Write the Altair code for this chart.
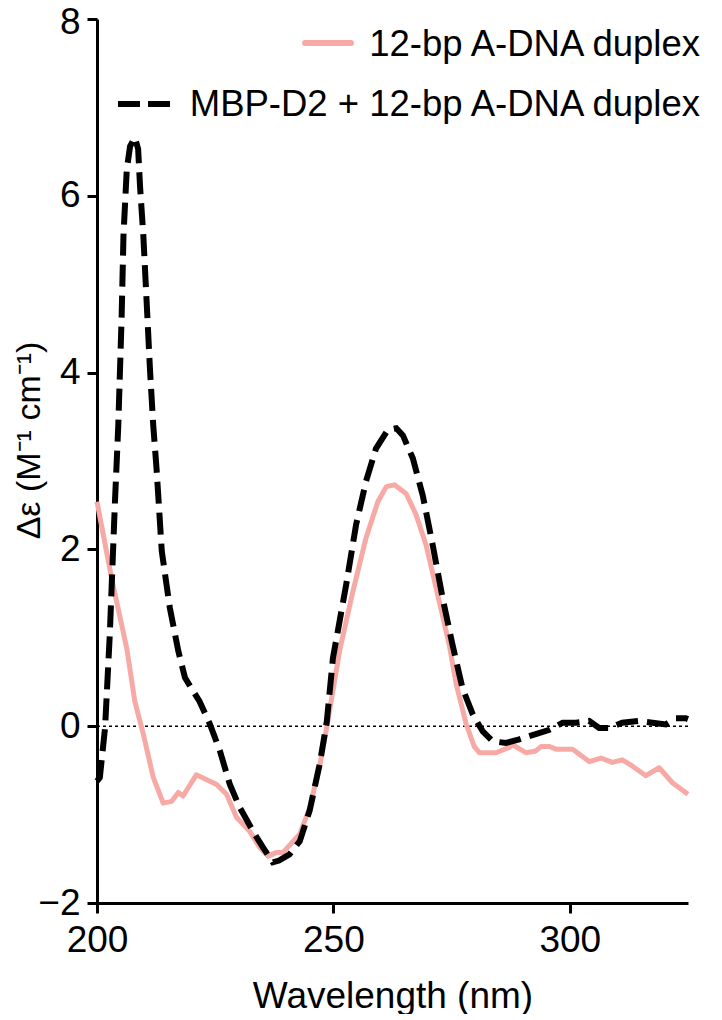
import altair as alt
import pandas as pd

# ---- data ----
series_names = ["12-bp A-DNA duplex", "MBP-D2 + 12-bp A-DNA duplex"]

dna_wl = [200, 203.1, 206.3, 208.0, 209.8, 211.9, 214.0, 215.8, 217.2, 218.2, 221.0,
          225.3, 227.4, 229.5, 232.3, 234.4, 236.2, 237.9, 239.3, 240.7, 242.9, 245.0,
          247.1, 248.7, 251.3, 254.1, 256.9, 259.4, 261.2, 262.9, 265.4, 267.5, 269.6,
          272.4, 274.5, 276.0, 278.1, 279.8, 280.9, 284.4, 287.2, 287.9, 290.7, 292.8,
          293.9, 295.7, 297.1, 300.6, 304.1, 306.6, 309.0, 311.1, 313.2, 316.1, 318.9,
          321.7, 324.5, 325]
dna_de = [2.54, 1.67, 0.88, 0.28, -0.09, -0.58, -0.87, -0.85, -0.75, -0.79, -0.55,
          -0.66, -0.77, -1.03, -1.19, -1.37, -1.47, -1.43, -1.43, -1.35, -1.22, -0.92,
          -0.45, 0.02, 0.85, 1.52, 2.13, 2.54, 2.71, 2.73, 2.63, 2.39, 2.05,
          1.41, 0.92, 0.47, 0.02, -0.23, -0.30, -0.30, -0.24, -0.21, -0.30, -0.28,
          -0.23, -0.23, -0.26, -0.26, -0.40, -0.36, -0.41, -0.38, -0.45, -0.56, -0.47,
          -0.64, -0.75, -0.77]

mbp_wl = [200, 200.6, 201.7, 202.7, 203.8, 204.5, 205.2, 205.6, 206.3, 207.0, 208.0,
          208.7, 209.1, 209.8, 210.5, 211.2, 211.9, 212.6, 213.7, 215.4, 217.2, 218.6,
          220.3, 221.7, 223.9, 226.0, 228.1, 230.2, 233.0, 235.1, 237.2, 238.5, 240.7,
          242.9, 245.0, 247.1, 248.6, 249.9, 252.7, 254.8, 256.9, 259.0, 261.5, 263.3,
          264.7, 266.8, 268.9, 271.0, 273.1, 275.2, 277.3, 279.5, 281.6, 283.7, 286.5,
          289.3, 292.8, 295.7, 298.5, 301.3, 304.1, 306.2, 308.3, 311.1, 314.7, 317.5,
          320.3, 322.4, 324.5, 325]
mbp_de = [-0.62, -0.58, -0.02, 1.03, 2.54, 3.4, 4.61, 5.55, 6.30, 6.56, 6.66,
          6.53, 6.11, 5.55, 4.80, 4.04, 3.40, 2.91, 1.98, 1.34, 0.85, 0.55,
          0.40, 0.28, 0.02, -0.28, -0.66, -0.92, -1.19, -1.37, -1.54, -1.52, -1.45,
          -1.30, -0.95, -0.43, 0.05, 0.77, 1.60, 2.28, 2.77, 3.14, 3.35, 3.37,
          3.29, 3.03, 2.61, 2.05, 1.45, 0.92, 0.43, 0.13, -0.06, -0.17, -0.19,
          -0.15, -0.09, -0.04, 0.04, 0.04, 0.06, -0.02, -0.02, 0.04, 0.06, 0.04,
          0.02, 0.09, 0.09, 0.08]

x_ticks = [200, 250, 300]
y_ticks = [-2, 0, 2, 4, 6, 8]

PINK = "#F7AAA5"
FONT = "Liberation Sans"

dna_df = pd.DataFrame({"wl": dna_wl, "de": dna_de, "series": series_names[0]})
mbp_df = pd.DataFrame({"wl": mbp_wl, "de": mbp_de, "series": series_names[1]})

xscale = alt.Scale(domain=[200, 325], nice=False, zero=False)
yscale = alt.Scale(domain=[-2, 8], nice=False, zero=False)

xaxis = alt.Axis(values=x_ticks, format="d", labelFlush=False, labelPadding=9,
                 title="Wavelength (nm)", titleY=104,
                 titleBaseline="alphabetic", titleFontSize=37)
yaxis = alt.Axis(values=y_ticks, format="d", labelFlush=False, labelPadding=7,
                 labelOffset={"condition": {"test": "datum.value == 8", "value": 3}, "value": 0},
                 title="Δε (M⁻¹ cm⁻¹)", titleX=-58, titleY=421,
                 titleAngle=270, titleBaseline="alphabetic", titleAlign="center",
                 titleFontSize=34)

zero = alt.Chart(pd.DataFrame({"a": [0]})).mark_rule(
    color="black", strokeWidth=1.5, strokeDash=[3, 3]
).encode(x=alt.datum(200, scale=xscale), x2=alt.datum(325), y=alt.datum(0, scale=yscale))

dna_line = alt.Chart(dna_df).mark_line(color=PINK, strokeWidth=5, strokeJoin="round").encode(
    x=alt.X("wl:Q", scale=xscale, axis=xaxis),
    y=alt.Y("de:Q", scale=yscale, axis=yaxis),
)
mbp_line = alt.Chart(mbp_df).mark_line(color="black", strokeWidth=6, strokeDash=[22, 9]).encode(
    x=alt.X("wl:Q", scale=xscale),
    y=alt.Y("de:Q", scale=yscale),
)

leg1 = pd.DataFrame({"label": [series_names[0]]})
leg2 = pd.DataFrame({"label": [series_names[1]]})

leg1_sym = alt.Chart(leg1).mark_rule(color=PINK, strokeWidth=6, strokeCap="round").encode(
    x=alt.value(208), x2=alt.value(254), y=alt.value(24))
leg1_txt = alt.Chart(leg1).mark_text(align="right", baseline="middle", fontSize=36.5,
                                     font=FONT, color="black").encode(
    x=alt.value(603), y=alt.value(26), text="label:N")
leg2_sym = alt.Chart(leg2).mark_rule(color="black", strokeWidth=6, strokeDash=[22, 8]).encode(
    x=alt.value(21), x2=alt.value(73), y=alt.value(85))
leg2_txt = alt.Chart(leg2).mark_text(align="right", baseline="middle", fontSize=36.5,
                                     font=FONT, color="black").encode(
    x=alt.value(603), y=alt.value(86), text="label:N")

chart = alt.layer(zero, dna_line, mbp_line, leg1_sym, leg1_txt, leg2_sym, leg2_txt).properties(
    width=591, height=884,
    autosize=alt.AutoSizeParams(type="none"),
    padding={"left": 89, "top": 11, "right": 25, "bottom": 111},
).configure_view(stroke=None).configure_axis(
    grid=False, domainColor="black", domainWidth=3, tickColor="black", tickWidth=3,
    tickSize=10, labelFont=FONT, labelFontSize=37, labelColor="black",
    titleFont=FONT, titleFontWeight="normal", titleColor="black",
)

chart.save("out.html", embed_options={"renderer": "svg", "actions": False})
